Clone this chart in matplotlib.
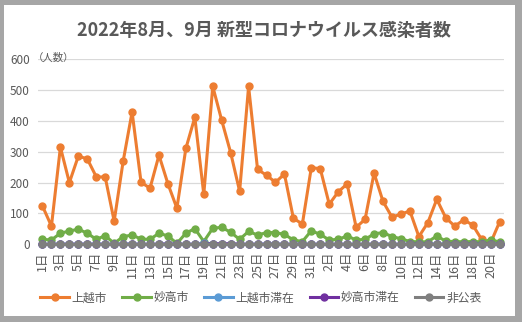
import numpy as np
import matplotlib
matplotlib.use("Agg")
import matplotlib.pyplot as plt
from matplotlib.patches import Rectangle

plt.rcParams['font.family'] = ['Noto Sans CJK JP', 'DejaVu Sans']

# Aug 1-31, Sep 1-21
days = list(range(1, 32)) + list(range(1, 22))

joetsu = [124, 59, 315, 200, 286, 277, 219, 218, 75, 269,
          429, 201, 182, 289, 196, 117, 311, 412, 162, 512,
          402, 297, 172, 512, 243, 224, 201, 228, 84, 66, 249,
          245, 130, 170, 196, 55, 81, 231, 139, 88, 98,
          108, 25, 70, 146, 86, 59, 79, 63, 16, 4, 72]
myoko = [16, 14, 36, 43, 49, 36, 16, 28, 3, 25,
         30, 17, 16, 36, 27, 3, 36, 51, 9, 52,
         55, 39, 16, 42, 30, 38, 38, 32, 14, 9, 44,
         32, 14, 16, 27, 14, 16, 34, 38, 25, 18,
         9, 8, 8, 27, 10, 9, 8, 9, 8, 14, 8]
joetsu_stay = [0, 0, 1, 0, 1, 0, 1, 0, 0, 1,
               1, 0, 0, 0, 1, 0, 0, 0, 3, 1,
               0, 0, 0, 0, 0, 1, 1, 0, 0, 0, 0,
               0, 0, 0, 0, 0, 0, 0, 1, 0, 0,
               0, 0, 0, 1, 0, 0, 0, 0, 0, 0, 0]
myoko_stay = [0, 0, 0, 0, 0, 0, 0, 0, 0, 0,
              0, 0, 0, 0, 1, 0, 0, 0, 0, 2,
              1, 2, 0, 0, 0, 0, 0, 0, 0, 0, 0,
              0, 0, 0, 0, 0, 0, 0, 0, 0, 0,
              0, 0, 0, 0, 0, 0, 0, 0, 0, 0, 0]
undisclosed = [0] * 52

series = [("上越市", joetsu, "#ED7D31"),
          ("妙高市", myoko, "#70AD47"),
          ("上越市滞在", joetsu_stay, "#5B9BD5"),
          ("妙高市滞在", myoko_stay, "#7030A0"),
          ("非公表", undisclosed, "#7F7F7F")]

fig = plt.figure(figsize=(5.22, 3.22), dpi=100)
fig.patch.set_facecolor("#A6A6A6")
fig.add_artist(Rectangle((4 / 522, 6 / 322), 511 / 522, 311 / 322,
                         transform=fig.transFigure, facecolor="white",
                         edgecolor="none", zorder=0))

ax = fig.add_axes([38 / 522, 77.7 / 322, 466 / 522, 185 / 322])
ax.set_facecolor("none")
x = np.arange(len(days))
for name, vals, col in series:
    ax.plot(x, vals, color=col, lw=2.2, marker="o", ms=5, label=name,
            clip_on=False)

ax.set_xlim(-0.5, len(days) - 0.5)
ax.set_ylim(0, 600)
ax.set_yticks(range(0, 601, 100))
ax.grid(axis="y", color="#D9D9D9", lw=0.9)
ax.set_axisbelow(True)
for sp in ax.spines.values():
    sp.set_visible(False)
ax.tick_params(axis="both", length=0, colors="#595959", labelsize=8.5)
ax.tick_params(axis="y", pad=6)
ax.tick_params(axis="x", pad=5)
ax.set_xticks(x[::2])
ax.set_xticklabels([f"{d}日" for d in days[::2]], rotation=90, fontsize=9)

fig.text(33 / 522, 1 - 58 / 322, "（人数）", fontsize=7.5, color="#595959",
         va="center", ha="left")
fig.text(264 / 522, 1 - 30 / 322, "2022年8月、9月 新型コロナウイルス感染者数",
         fontsize=13, fontweight="bold", color="#595959",
         ha="center", va="center")

fig.legend(loc="center", bbox_to_anchor=(261 / 522, 1 - 298 / 322), ncol=5,
           frameon=False, fontsize=8.5, labelcolor="#595959",
           handlelength=2.4, columnspacing=1.3, handletextpad=0.25)

fig.savefig("out.png", dpi=100, facecolor=fig.get_facecolor())
